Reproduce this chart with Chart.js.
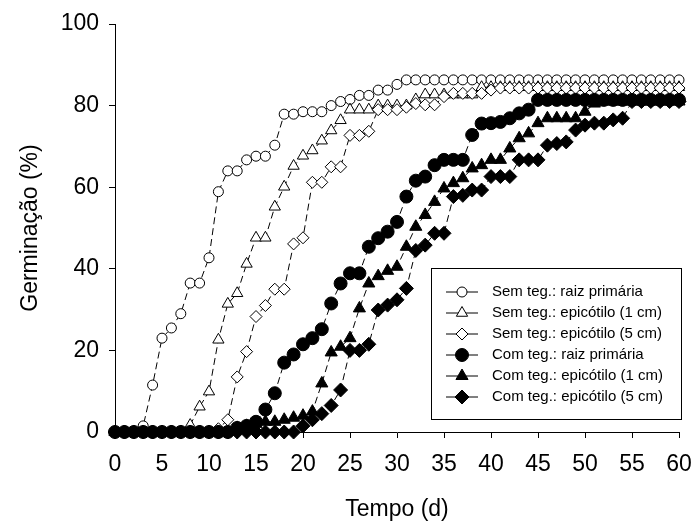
<!DOCTYPE html>
<html>
<head>
<meta charset="utf-8">
<script src="https://cdn.jsdelivr.net/npm/chart.js@4"></script>
<style>
  html, body { margin: 0; padding: 0; background: #fff; }
  #wrap { width: 693px; height: 523px; }
</style>
</head>
<body>
<div id="wrap"><canvas id="chart"></canvas></div>
<script>
const days = [0, 1, 2, 3, 4, 5, 6, 7, 8, 9, 10, 11, 12, 13, 14, 15, 16, 17, 18, 19, 20,
  21, 22, 23, 24, 25, 26, 27, 28, 29, 30, 31, 32, 33, 34, 35, 36, 37, 38, 39, 40,
  41, 42, 43, 44, 45, 46, 47, 48, 49, 50, 51, 52, 53, 54, 55, 56, 57, 58, 59, 60];

const labels = ["Sem teg.: raiz primária", "Sem teg.: epicótilo (1 cm)", "Sem teg.: epicótilo (5 cm)",
  "Com teg.: raiz primária", "Com teg.: epicótilo (1 cm)", "Com teg.: epicótilo (5 cm)"];

// Sem tegumento
const semRaiz = [0, 0, 0, 1.5, 11.5, 23, 25.5, 29, 36.5, 36.5, 42.7, 58.9, 64, 64, 66.7, 67.6, 67.6, 70.3, 77.9, 77.9, 78.5,
  78.5, 78.5, 80, 81, 81.5, 82.5, 82.5, 83.8, 83.8, 85.2, 86.3, 86.3, 86.3, 86.3, 86.3, 86.3, 86.3, 86.3, 86.3, 86.3,
  86.3, 86.3, 86.3, 86.3, 86.3, 86.3, 86.3, 86.3, 86.3, 86.3, 86.3, 86.3, 86.3, 86.3, 86.3, 86.3, 86.3, 86.3, 86.3, 86.3];
const semEpi1 = [0, 0, 0, 0, 0, 0, 0, 0, 1.7, 6.2, 9.9, 22.6, 31.4, 34, 41.2, 47.6, 47.6, 55.2, 60.1, 65.2, 67.7,
  69, 71.4, 73.9, 76.4, 79, 79, 79, 80, 80, 80, 80, 81.5, 82.7, 82.7, 82.7, 82.7, 82.7, 82.7, 84.5, 84.5,
  84.5, 84.5, 84.5, 84.5, 84.5, 84.5, 84.5, 84.5, 84.5, 84.5, 84.5, 84.5, 84.5, 84.5, 84.5, 84.5, 84.5, 84.5, 84.5, 84.5];
const semEpi5 = [0, 0, 0, 0, 0, 0, 0, 0, 0, 0, 0, 0.8, 3, 13.5, 19.7, 28.3, 31, 35, 35, 46.1, 47.6,
  61.2, 61.2, 65, 65, 72.7, 72.7, 73.7, 79, 79, 79, 79.6, 80.5, 80.2, 80.2, 82.2, 83, 83, 83, 83, 83.8,
  84.3, 84.3, 84.3, 84.3, 84.3, 84.3, 84.3, 84.3, 84.3, 84.3, 84.3, 84.3, 84.3, 84.3, 84.3, 84.3, 84.3, 84.3, 84.3, 84.3];

// Com tegumento
const comRaiz = [0, 0, 0, 0, 0, 0, 0, 0, 0, 0, 0, 0, 0, 1, 1.5, 2.5, 5.5, 9.5, 17, 19, 21.5,
  23, 25.2, 31.5, 36.4, 38.9, 38.9, 45.4, 47.5, 49.1, 51.5, 57.7, 61.6, 62.6, 65.4, 66.7, 66.7, 66.7, 72.8, 75.6, 75.7,
  76, 76.9, 78.1, 79, 81.4, 81.4, 81.4, 81.4, 81.4, 81.4, 81.4, 81.4, 81.4, 81.4, 81.4, 81.4, 81.4, 81.4, 81.4, 81.4];
const comEpi1 = [0, 0, 0, 0, 0, 0, 0, 0, 0, 0, 0, 0, 0, 1, 1.5, 2, 2.5, 2.5, 3, 3.5, 4,
  5, 11.9, 19.5, 20.9, 23, 30.3, 36.4, 38.2, 39.5, 40.5, 45.4, 50.3, 53.2, 56.4, 59.7, 61, 62.2, 64.6, 65.4, 66.7,
  66.7, 69.5, 72, 73.2, 75.7, 76.9, 76.9, 76.9, 76.9, 78.5, 80.5, 81, 81, 81, 81, 81, 81, 81, 81, 81];
const comEpi5 = [0, 0, 0, 0, 0, 0, 0, 0, 0, 0, 0, 0, 0, 0, 0, 0, 0, 0, 0, 0, 1.5,
  3, 4.5, 6.5, 10.3, 20, 20, 21.5, 29.9, 31.1, 32.4, 35.2, 44.5, 45.8, 48.7, 48.7, 57.7, 58, 59.3, 59.3, 62.6,
  62.6, 62.6, 66.7, 66.7, 66.7, 70.3, 70.7, 71.1, 74, 75.2, 75.7, 75.7, 76.5, 76.9, 81, 81, 81, 81, 81, 81];

const xTicks = [0, 5, 10, 15, 20, 25, 30, 35, 40, 45, 50, 55, 60];
const yTicks = [0, 20, 40, 60, 80, 100];

const FONT = "'Liberation Sans', Arial, sans-serif";

function serie(i, values, style, radius, filled) {
  return {
    label: labels[i],
    data: days.map((d, k) => ({ x: d, y: values[k] })),
    borderColor: "#000",
    borderWidth: 1,
    borderDash: [7, 4],
    backgroundColor: filled ? "#000" : "#fff",
    pointStyle: style,
    pointRadius: radius,
    pointBorderWidth: 1,
    pointBorderColor: "#000",
    pointBackgroundColor: filled ? "#000" : "#fff",
    fill: false,
    tension: 0,
    clip: false,
    order: 6 - i, // later series on top, like the original
  };
}

const datasets = [
  serie(0, semRaiz, "circle", 5, false),
  serie(1, semEpi1, "triangle", 6.5, false),
  serie(2, semEpi5, "rectRot", 6, false),
  serie(3, comRaiz, "circle", 6.5, true),
  serie(4, comEpi1, "triangle", 7, true),
  serie(5, comEpi5, "rectRot", 7, true),
];

// legend box drawn by hand, SigmaPlot style (line + marker)
const boxLegend = {
  id: "boxLegend",
  afterDraw(chart) {
    const ctx = chart.ctx;
    ctx.save();
    ctx.strokeStyle = "#000";
    ctx.lineWidth = 1;
    ctx.strokeRect(431.5, 268.5, 250, 151);
    ctx.font = "15px " + FONT;
    ctx.textBaseline = "middle";
    ctx.textAlign = "left";
    datasets.forEach((ds, i) => {
      const y = 292 + i * 21;
      ctx.beginPath();
      ctx.moveTo(446, y);
      ctx.lineTo(478, y);
      ctx.stroke();
      ctx.fillStyle = ds.pointBackgroundColor;
      ctx.strokeStyle = "#000";
      Chart.helpers.drawPoint(ctx, {
        pointStyle: ds.pointStyle,
        radius: ds.pointRadius,
        rotation: 0,
        borderWidth: 1,
      }, 462, y);
      ctx.fillStyle = "#000";
      ctx.fillText(ds.label, 492, y);
    });
    ctx.restore();
  },
};

new Chart(document.getElementById("chart"), {
  type: "line",
  data: { datasets },
  plugins: [boxLegend],
  options: {
    responsive: true,
    maintainAspectRatio: false,
    animation: false,
    events: [],
    layout: { padding: { top: 24, right: 14, left: 0, bottom: 0 } },
    plugins: {
      legend: { display: false },
      tooltip: { enabled: false },
    },
    scales: {
      x: {
        type: "linear",
        min: 0,
        max: 60,
        afterBuildTicks: (scale) => { scale.ticks = xTicks.map((v) => ({ value: v })); },
        afterFit: (scale) => {
          scale.height = 91;
          scale.paddingLeft = 0;
          scale.paddingRight = 0;
        },
        ticks: { color: "#000", font: { family: FONT, size: 23 }, padding: 13, maxRotation: 0 },
        grid: { drawOnChartArea: false, color: "#000", tickLength: 6 },
        border: { color: "#000", width: 1 },
        title: {
          display: true,
          text: "Tempo (d)",
          color: "#000",
          font: { family: FONT, size: 23 },
          padding: { top: 0, bottom: 0 },
        },
      },
      y: {
        min: 0,
        max: 100,
        afterBuildTicks: (scale) => { scale.ticks = yTicks.map((v) => ({ value: v })); },
        afterFit: (scale) => {
          scale.width = 115;
          scale.paddingTop = 0;
          scale.paddingBottom = 0;
        },
        ticks: { color: "#000", font: { family: FONT, size: 23 }, padding: 10 },
        grid: { drawOnChartArea: false, color: "#000", tickLength: 6 },
        border: { color: "#000", width: 1 },
        title: {
          display: true,
          text: "Germinação (%)",
          color: "#000",
          font: { family: FONT, size: 23 },
          padding: { top: 17, bottom: 0 },
        },
      },
    },
  },
});
</script>
</body>
</html>
